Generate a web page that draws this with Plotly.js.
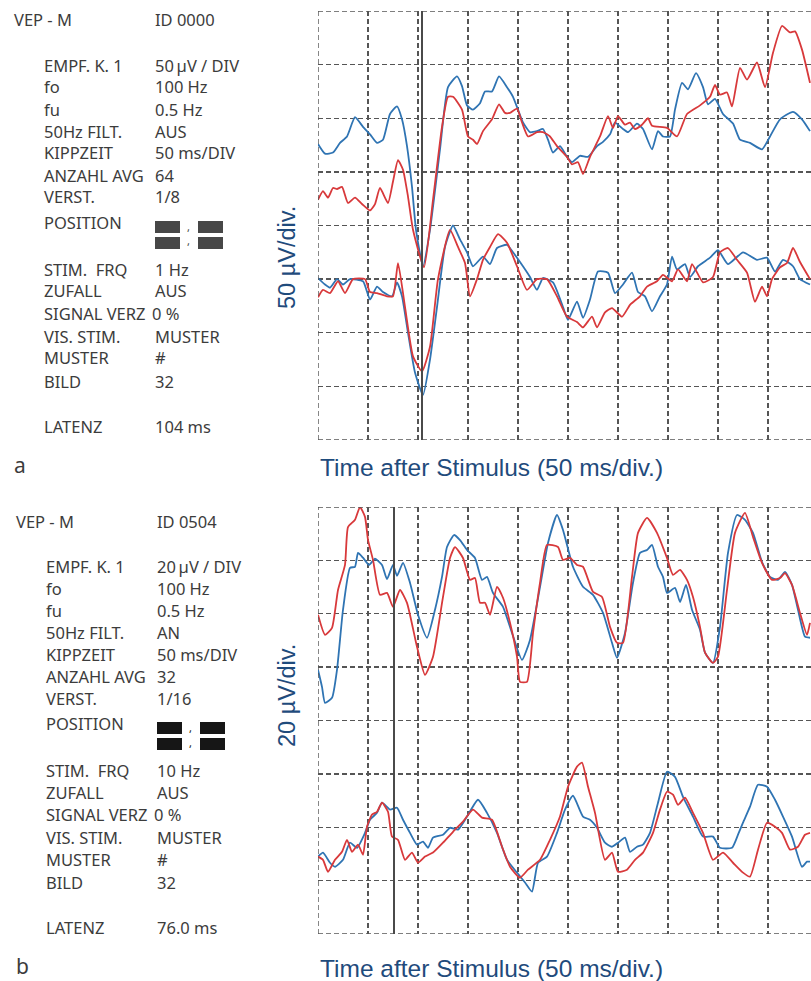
<!DOCTYPE html>
<html><head><meta charset="utf-8">
<script src="https://cdn.plot.ly/plotly-3.0.1.min.js"></script>
<style>html,body{margin:0;padding:0;background:#fff}#chart{width:811px;height:981px}</style>
</head><body><div id="chart"></div>
<script>
// ---------- Panel a (50 µV/div) ----------
const tA_upBlue=[0,7,15,22,29,37,45,52,59,65,72,79,84,89,94,98,105,112,122,130,139,144,149,155,162,167,174,181,189,195,200,205,212,219,225,230,235,242,249,254,262,270,279,285,292,297,305,310,319,325,334,340,345,352,357,364,370,378,385,390,397,405,415,422,432,444,452,462,475,484,492];
const vA_upBlue=[76,67,68,77,83,101,92,85,77,80,104,111,99,74,36,-4,-38,-4,71,129,139,130,112,108,114,125,125,139,129,120,108,96,87,88,90,80,68,74,64,59,65,64,74,78,85,96,90,87,95,90,71,88,83,83,108,133,127,142,129,113,118,104,95,80,77,71,83,99,106,99,88];
const tA_upRed=[0,5,10,15,19,24,30,37,44,52,57,62,70,75,80,85,90,95,106,115,124,130,135,144,150,155,159,165,174,181,187,192,199,204,210,219,225,232,239,249,254,260,265,272,282,290,295,300,307,312,317,324,330,334,349,359,369,382,392,397,402,409,414,422,429,439,447,455,464,472,477,484,492];
const vA_upRed=[24,32,26,35,34,36,21,26,20,14,20,35,21,41,61,52,27,-4,-39,24,92,120,120,108,83,80,76,88,99,113,105,105,109,96,83,87,87,83,74,64,57,59,48,64,83,102,91,102,94,96,90,94,100,93,91,83,104,112,120,131,122,124,111,147,136,152,129,161,186,180,181,164,133];
const tA_loBlue=[0,7,12,19,25,32,45,52,59,65,74,79,84,90,97,105,112,119,127,135,142,149,155,165,172,179,189,195,202,212,219,225,235,245,250,259,265,272,280,290,297,305,314,320,327,334,342,349,354,359,367,372,380,392,400,410,425,439,449,457,465,475,482,492];
const vA_loBlue=[-49,-55,-58,-50,-55,-50,-52,-69,-57,-62,-66,-53,-66,-100,-137,-158,-125,-76,-20,0,-13,-25,-38,-29,-36,-21,-18,-25,-34,-48,-60,-49,-53,-76,-88,-71,-86,-69,-43,-44,-63,-55,-44,-62,-66,-80,-66,-55,-29,-41,-36,-48,-38,-30,-23,-36,-25,-32,-30,-43,-32,-38,-50,-55];
const tA_loRed=[0,5,12,20,27,35,47,52,59,69,75,80,87,95,104,112,120,132,140,147,152,159,165,172,180,189,199,209,219,229,239,249,259,265,274,279,287,294,304,312,322,329,339,345,354,360,369,374,385,395,402,410,419,429,437,444,449,454,462,469,475,482,492];
const vA_loRed=[-67,-60,-63,-52,-63,-50,-50,-62,-63,-66,-66,-35,-76,-122,-136,-113,-50,-4,-20,-35,-66,-50,-32,-20,-8,-16,-38,-60,-50,-50,-66,-85,-90,-95,-85,-95,-81,-77,-85,-74,-66,-57,-52,-46,-52,-41,-52,-36,-53,-48,-25,-21,-32,-44,-71,-57,-66,-50,-39,-35,-21,-34,-50];

// ---------- Panel b (20 µV/div) ----------
const tB_upBlue=[0,4,7,14,19,25,32,37,40,45,51,57,64,69,75,79,85,92,100,109,117,124,129,136,142,149,157,164,169,175,185,194,204,212,222,230,239,245,255,265,275,285,294,299,307,315,322,329,334,340,345,349,357,362,368,374,382,387,395,402,410,419,427,435,444,452,460,467,474,480,487,492];
const vB_upBlue=[19,12.6,6.6,8.5,19,41.5,57.2,57.6,62.8,61,58.3,60.6,58.3,53,58.3,54.2,59.1,51.6,39.6,31,41.5,53.8,65,69.5,67.6,63.9,60.9,52.7,53.8,47.8,42.6,32.8,22.7,30.2,50,66.5,77,71.4,57.6,50.1,47.1,40.3,29.1,23.5,32.8,51.6,62.8,63.9,65.8,57.6,53.8,47.8,49.7,44.4,50.8,41.5,34,25.4,21.6,35.1,62.8,77,75.2,70.3,59.4,53.8,52.7,55.7,50.8,41.5,31.4,31];
const tB_upRed=[0,7,14,20,27,30,37,42,47,50,55,62,69,75,82,89,99,107,115,125,132,137,145,152,157,162,167,172,179,185,192,199,202,209,215,222,229,240,245,252,259,265,275,284,292,299,305,314,320,329,339,349,355,362,369,375,382,387,395,400,409,417,427,435,444,454,462,467,474,482,489,492];
const vB_upRed=[39.6,32.1,34.7,48.9,58.3,72.5,75.2,80,76.3,67.7,60.2,47.1,47.8,42.6,48.9,44.1,27.6,17.1,23.9,46.3,60.9,65,60.9,52.7,53.4,44.1,44.1,39.6,50.1,46,36.6,23.9,14.5,14.5,32.8,51.6,65.8,65,60.2,60.9,58.3,57.6,48.2,46.3,35.1,29.1,29.1,53.8,70.3,75.9,70.3,60.9,54.6,56.4,52.7,46.3,35.1,25.4,21.6,23.9,48.9,70.3,77.8,68.8,59.1,52.7,53.4,55.2,50.8,40.3,32.1,36.6];
const tB_loBlue=[0,5,12,17,25,32,39,47,52,59,64,72,79,85,92,99,105,110,115,125,132,140,149,160,169,179,189,199,207,214,220,229,239,247,255,265,272,279,287,294,300,307,312,319,325,332,340,349,357,365,375,385,395,402,414,420,425,432,440,449,457,465,474,484,489,492];
const vB_loBlue=[-51,-49.5,-53.3,-54.8,-52.2,-45.8,-47.7,-42.1,-37.2,-34.6,-30.8,-33.4,-32.7,-37.2,-42.1,-46.5,-45.4,-47.7,-43.9,-42.8,-40.2,-40.9,-36,-29.7,-34.6,-42.1,-52.2,-57,-60.7,-64.1,-53.3,-51,-42.1,-33.4,-28.2,-36,-37.2,-40.2,-45.8,-47.3,-45.8,-43.9,-49.2,-47.3,-46.5,-42.1,-30.8,-19.2,-21.1,-28.6,-36,-43.5,-43.5,-47.7,-47.7,-42.8,-38.3,-32.3,-24.1,-24.8,-29.7,-36,-43.5,-54.8,-52.9,-52.9];
const tB_loRed=[0,5,10,17,24,29,34,40,45,49,54,59,64,70,74,80,87,94,100,107,115,125,135,145,155,164,174,184,192,202,210,222,232,242,250,259,264,270,277,287,294,300,309,317,325,335,342,349,355,360,367,375,385,395,405,415,425,432,440,449,457,464,472,480,487,492];
const vB_loRed=[-51,-52.2,-56.7,-52.2,-49.2,-44.7,-49.2,-46.5,-50.3,-39.8,-35.3,-34.2,-30.8,-34.2,-43.5,-44.7,-52.2,-49.5,-53.3,-51,-49.5,-45.8,-41.7,-37.9,-33.4,-36.4,-37.2,-47.3,-54.8,-58.9,-55.9,-52.2,-44.7,-36,-24.8,-17.3,-15.8,-24.8,-34.6,-52.2,-49.5,-56.7,-55.9,-52.2,-49.5,-42.1,-33.4,-26.7,-27.8,-31.6,-28.9,-34.6,-42.1,-52.2,-49.5,-53.3,-57,-58.5,-48.4,-38.3,-39.8,-42.1,-48.4,-47.3,-42.8,-42.1];

// ---------- Texts ----------
const latencies=[104,76];            // ms, stimulus latency markers
const scalesUV=[50,20];              // µV per division
const panelIds=["ID 0000","ID 0504"];
const panelLetters=["a","b"];
const infoLabels=["EMPF. K. 1","fo","fu","50Hz FILT.","KIPPZEIT","ANZAHL AVG","VERST.","POSITION","STIM.\u00a0 FRQ","ZUFALL","SIGNAL VERZ","VIS. STIM.","MUSTER","BILD","LATENZ"];
const infoValuesA=["50\u2009µV / DIV","100 Hz","0.5 Hz","AUS","50 ms/DIV","64","1/8","","1 Hz","AUS","0 %","MUSTER","#","32","104 ms"];
const infoValuesB=["20\u2009µV / DIV","100 Hz","0.5 Hz","AN","50 ms/DIV","32","1/16","","10 Hz","AUS","0 %","MUSTER","#","32","76.0 ms"];
const xTitle="Time after Stimulus (50 ms/div.)";

const W=811,H=981;
const PX=x=>x/W, PY=y=>1-y/H;
const BLUE='#2f74b3', RED='#d8393b', GRID='#555555';

function tr(t,v,color,xa,ya){
  return {x:t,y:v,type:'scatter',mode:'lines',xaxis:xa,yaxis:ya,hoverinfo:'skip',
    line:{color:color,width:1.8,shape:'spline',smoothing:0.5}};
}
const data=[
  tr(tA_upBlue,vA_upBlue,BLUE,'x','y'), tr(tA_loBlue,vA_loBlue,BLUE,'x','y'),
  tr(tA_upRed,vA_upRed,RED,'x','y'),   tr(tA_loRed,vA_loRed,RED,'x','y'),
  tr(tB_upBlue,vB_upBlue,BLUE,'x2','y2'), tr(tB_loBlue,vB_loBlue,BLUE,'x2','y2'),
  tr(tB_upRed,vB_upRed,RED,'x2','y2'),   tr(tB_loRed,vB_loRed,RED,'x2','y2')
];

const gridDash='5px,3px';
function xax(anchor){return {domain:[PX(318),1],range:[0,493],tick0:0,dtick:50,showgrid:true,gridcolor:GRID,gridwidth:1.4,griddash:gridDash,
  zeroline:false,showline:false,showticklabels:false,ticks:'',anchor:anchor,fixedrange:true};}
function yax(dom,s,anchor){return {domain:dom,range:[-4*s,4*s],tick0:0,dtick:s,showgrid:true,gridcolor:GRID,gridwidth:1.4,griddash:gridDash,
  zeroline:false,showline:false,showticklabels:false,ticks:'',anchor:anchor,fixedrange:true};}

const panelTop=[11,507], panelBot=[440,934];
const shapes=[], annotations=[];
const axN=['',"2"];
for(let p=0;p<2;p++){
  const xr='x'+axN[p], yr='y'+axN[p];
  // dashed frame (left, top, bottom)
  const dashLine={color:GRID,width:1.4,dash:gridDash};
  shapes.push({type:'line',xref:xr,yref:'paper',x0:0,x1:0,y0:PY(panelBot[p]),y1:PY(panelTop[p]),line:dashLine});
  shapes.push({type:'line',xref:'paper',yref:yr,x0:PX(318),x1:1,y0:4*scalesUV[p],y1:4*scalesUV[p],line:dashLine});
  shapes.push({type:'line',xref:'paper',yref:yr,x0:PX(318),x1:1,y0:-4*scalesUV[p],y1:-4*scalesUV[p],line:dashLine});
  // latency marker
  shapes.push({type:'line',xref:xr,yref:'paper',x0:latencies[p],x1:latencies[p],y0:PY(panelBot[p]),y1:PY(panelTop[p]),line:{color:'#4a4a4a',width:2}});
}

const infoFont={family:'Noto Sans, Open Sans, sans-serif',size:16.5,color:'#3c3c3c'};
const rowsY=[65,87,109,131,153,175,197,222,269,291,313,336,358,381,426];
function txt(x,y,text,font,extra){
  annotations.push(Object.assign({xref:'paper',yref:'paper',x:PX(x),y:PY(y),text:text,showarrow:false,
    xanchor:'left',yanchor:'middle',font:font},extra||{}));
}
const offY=[0,501], offLX=[42,44], offVX=[153,155], offTX=[12,14];
const vals=[infoValuesA,infoValuesB];
const iconCol=['#474747','#161616'];
for(let p=0;p<2;p++){
  const oy=offY[p];
  txt(offTX[p],20+oy,'VEP - M',infoFont);
  txt(offVX[p],20+oy,panelIds[p],infoFont);
  for(let i=0;i<infoLabels.length;i++){
    txt(offLX[p],rowsY[i]+oy,infoLabels[i],infoFont);
    if(vals[p][i]) {
      const vx = infoLabels[i].startsWith('SIGNAL') ? offVX[p]-3 : offVX[p];
      txt(vx,rowsY[i]+oy,vals[p][i],infoFont);
    }
  }
  // position icons
  const ox=offVX[p]+2;
  [[ox,ox+25],[ox+43,ox+68]].forEach(function(xx){
    shapes.push({type:'rect',xref:'paper',yref:'paper',x0:PX(xx[0]),x1:PX(xx[1]),y0:PY(233+oy),y1:PY(221+oy),fillcolor:iconCol[p],line:{width:0}});
    shapes.push({type:'rect',xref:'paper',yref:'paper',x0:PX(xx[0]),x1:PX(xx[1]),y0:PY(249+oy),y1:PY(237+oy),fillcolor:iconCol[p],line:{width:0}});
  });
  txt(ox+30,226+oy,',',{family:'Noto Sans',size:11,color:iconCol[p]});
  txt(ox+30,241+oy,',',{family:'Noto Sans',size:11,color:iconCol[p]});
  // panel letter
  txt(offTX[p],465+oy,panelLetters[p],{family:'Noto Sans',size:21,color:'#3c3c3c'});
  // axis titles
  txt(318,467+oy,xTitle,{family:'Liberation Sans, Arial, sans-serif',size:24.5,color:'#1f4b7c'});
  annotations.push({xref:'paper',yref:'paper',x:PX(287),y:PY(258+oy-(p?63:0)),text:scalesUV[p]+' µV/div.',showarrow:false,
    textangle:-90,xanchor:'center',yanchor:'middle',font:{family:'Liberation Sans, Arial, sans-serif',size:23.5,color:'#1f4b7c'}});
}

const layout={width:W,height:H,margin:{l:0,r:0,t:0,b:0},paper_bgcolor:'#fff',plot_bgcolor:'rgba(0,0,0,0)',showlegend:false,
  xaxis:xax('y'), yaxis:yax([PY(440),PY(11)],50,'x'),
  xaxis2:xax('y2'), yaxis2:yax([PY(934),PY(507)],20,'x2'),
  shapes:shapes, annotations:annotations};
Plotly.newPlot('chart',data,layout,{staticPlot:true,displayModeBar:false});
</script></body></html>
